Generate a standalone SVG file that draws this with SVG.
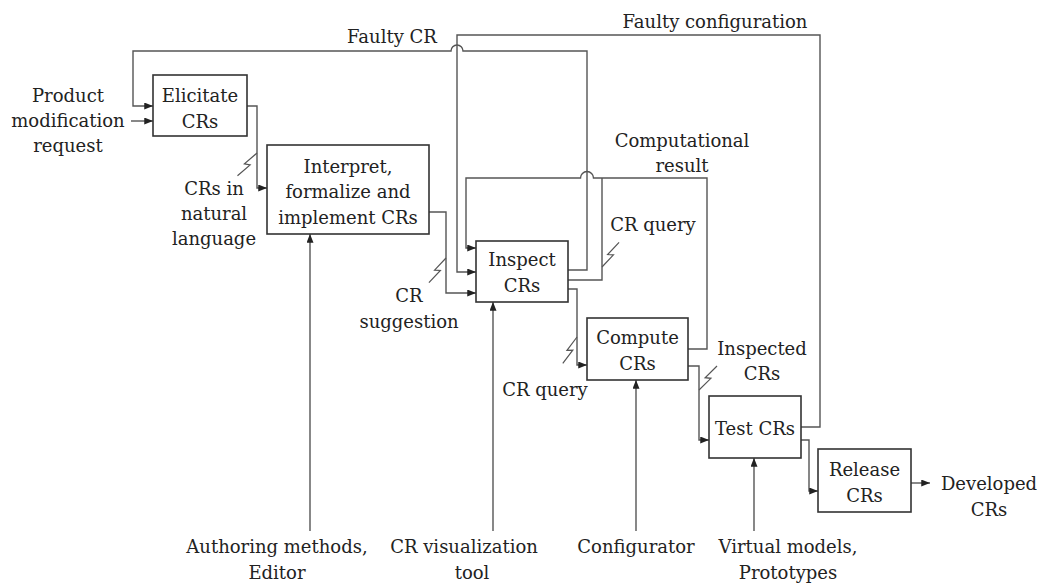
<svg xmlns="http://www.w3.org/2000/svg" width="1041" height="586" viewBox="0 0 1041 586">
<defs>
<marker id="ah" viewBox="0 0 10 8" refX="10" refY="4" markerWidth="9" markerHeight="7" markerUnits="userSpaceOnUse" orient="auto"><path d="M0,0 L10,4 L0,8 z" fill="#222"/></marker>
<path id="sq" d="M0,0 L16.5,2.5 L13.5,-2.5 L30,0"/>
</defs>
<style>
.box{fill:#fff;stroke:#333;stroke-width:1.6}
.ln{fill:none;stroke:#555;stroke-width:1.4}
.ar{marker-end:url(#ah)}
.sq{fill:none;stroke:#555;stroke-width:1.2}
text{font-family:"DejaVu Serif","Liberation Serif",serif;font-size:18px;fill:#222;text-anchor:middle}
</style>
<rect width="1041" height="586" fill="#fff"/>
<g id="connectors">
<path class="ln ar" d="M131,121 H153"/>
<path class="ln ar" d="M568,270 H587 V51 H463 A6,6 0 0 0 451,51 H133 V106 H153"/>
<path class="ln ar" d="M247,106 H257 V188 H267"/>
<path class="ln ar" d="M429,212 H446 V293 H476"/>
<path class="ln ar" d="M801,427 H820 V35 H457 V272 H476"/>
<path class="ln ar" d="M688,349 H707 V178 H593.5 A6.5,6.5 0 0 0 580.5,178 H466 V248 H476"/>
<path class="ln" d="M568,280 H602 V178"/>
<path class="ln ar" d="M568,289 H577 V365 H587"/>
<path class="ln ar" d="M688,366 H699 V440 H709"/>
<path class="ln ar" d="M801,440 H809 V491 H818"/>
<path class="ln ar" d="M911,483 H930"/>
<path class="ln ar" d="M310,531 V234"/>
<path class="ln ar" d="M493,531 V302"/>
<path class="ln ar" d="M636,531 V380"/>
<path class="ln ar" d="M754,531 V458"/>
<use href="#sq" class="sq" transform="translate(257,153) rotate(130.6)"/>
<use href="#sq" class="sq" transform="translate(446,258) rotate(124.7)"/>
<use href="#sq" class="sq" transform="translate(602,267) rotate(-55.3)"/>
<use href="#sq" class="sq" transform="translate(577,337) rotate(118.3)"/>
<use href="#sq" class="sq" transform="translate(699,390) rotate(-53.1)"/>
</g>
<g id="labels">
<text x="68" y="102">Product</text>
<text x="68" y="127">modification</text>
<text x="68" y="152">request</text>
<text x="392" y="43">Faulty CR</text>
<text x="715" y="28">Faulty configuration</text>
<text x="682" y="147">Computational</text>
<text x="682" y="172">result</text>
<text x="653" y="231">CR query</text>
<text x="214" y="195">CRs in</text>
<text x="214" y="220">natural</text>
<text x="214" y="245">language</text>
<text x="409" y="302">CR</text>
<text x="409" y="328">suggestion</text>
<text x="545" y="396">CR query</text>
<text x="762" y="355">Inspected</text>
<text x="762" y="380">CRs</text>
<text x="989" y="490">Developed</text>
<text x="989" y="516">CRs</text>
<text x="277" y="553">Authoring methods,</text>
<text x="277" y="579">Editor</text>
<text x="464" y="553">CR visualization</text>
<text x="472" y="579">tool</text>
<text x="636" y="553">Configurator</text>
<text x="788" y="553">Virtual models,</text>
<text x="788" y="579">Prototypes</text>
</g>
<g id="elicitate">
<rect class="box" x="153" y="75" width="94" height="61"/>
<text x="200" y="102">Elicitate</text>
<text x="200" y="128">CRs</text>
</g>
<g id="interpret">
<rect class="box" x="267" y="145" width="162" height="89"/>
<text x="348" y="173">Interpret,</text>
<text x="348" y="198">formalize and</text>
<text x="348" y="223.5">implement CRs</text>
</g>
<g id="inspect">
<rect class="box" x="476" y="241" width="92" height="61"/>
<text x="522" y="266">Inspect</text>
<text x="522" y="292">CRs</text>
</g>
<g id="compute">
<rect class="box" x="587" y="318" width="101" height="62"/>
<text x="637.5" y="344">Compute</text>
<text x="637.5" y="370">CRs</text>
</g>
<g id="test">
<rect class="box" x="709" y="396" width="92" height="62"/>
<text x="755" y="435">Test CRs</text>
</g>
<g id="release">
<rect class="box" x="818" y="449" width="93" height="63"/>
<text x="864.5" y="476">Release</text>
<text x="864.5" y="502">CRs</text>
</g>
</svg>
